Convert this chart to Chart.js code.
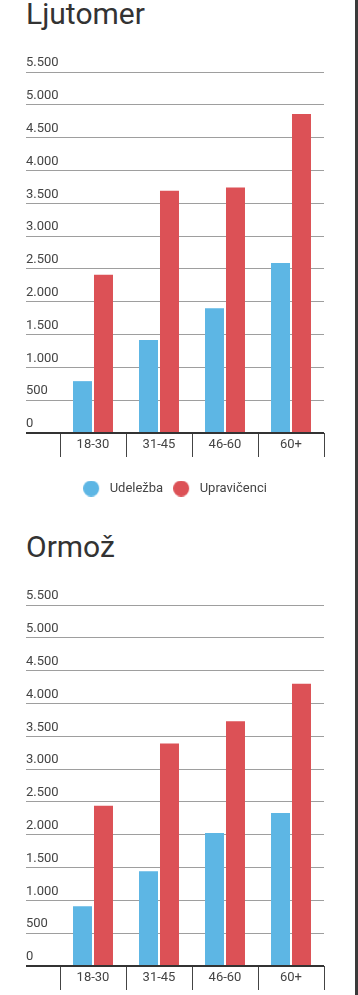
<!DOCTYPE html>
<html>
<head>
<meta charset="utf-8">
<script src="https://cdn.jsdelivr.net/npm/chart.js@4"></script>
<style>
  html,body{margin:0;padding:0;background:#fff;}
  body{width:358px;height:995px;overflow:hidden;position:relative;font-family:Roboto,sans-serif;}
  .sec{position:absolute;left:0;width:355px;height:533px;}
  .sec h2{position:absolute;left:26px;top:-1px;margin:0;font-weight:400;font-size:30px;line-height:30px;color:#333;}
  .sec canvas{position:absolute;left:0;top:40px;}
  #edge{position:absolute;left:355px;top:0;width:3px;height:995px;background:#3a3a3a;}
</style>
</head>
<body>
<div class="sec" style="top:0"><h2>Ljutomer</h2><canvas id="c1" width="352" height="480"></canvas></div>
<div class="sec" style="top:533px"><h2>Ormož</h2><canvas id="c2" width="352" height="480"></canvas></div>
<div id="edge"></div>
<script>
const ageGroups = ['18-30', '31-45', '46-60', '60+'];
const yTickLabels = ['0', '500', '1.000', '1.500', '2.000', '2.500', '3.000', '3.500', '4.000', '4.500', '5.000', '5.500'];
const seriesNames = ['Udeležba', 'Upravičenci'];

const ljutomerUdelezba = [790, 1415, 1900, 2590];
const ljutomerUpravicenci = [2410, 3690, 3740, 4860];
const ormozUdelezba = [910, 1445, 2025, 2330];
const ormozUpravicenci = [2440, 3390, 3730, 4300];

const BLUE = '#5db6e4', RED = '#dc5156';
const font13 = { family: 'Roboto', size: 13 };

// legend marker: 16px dot sitting at the left of a 20px box
function dot(color){
  const c = document.createElement('canvas');
  c.width = 20; c.height = 16;
  const g = c.getContext('2d');
  g.fillStyle = color;
  g.beginPath(); g.arc(8, 8, 8, 0, Math.PI * 2); g.fill();
  return c;
}

function makeChart(id, udel, uprav){
  const ctx = document.getElementById(id);
  return new Chart(ctx, {
    type: 'bar',
    data: {
      labels: ageGroups,
      datasets: [
        { label: seriesNames[0], data: udel, backgroundColor: BLUE, pointStyle: dot(BLUE) },
        { label: seriesNames[1], data: uprav, backgroundColor: RED, pointStyle: dot(RED) }
      ]
    },
    options: {
      responsive: false,
      animation: false,
      devicePixelRatio: 1,
      categoryPercentage: 0.636,
      barPercentage: 0.905,
      layout: { padding: { left: 26, right: 28, top: 32, bottom: 15 } },
      plugins: {
        tooltip: { enabled: false },
        legend: {
          position: 'bottom',
          labels: {
            usePointStyle: true, pointStyleWidth: 20,
            boxHeight: 13, padding: 10,
            font: font13, color: '#444'
          }
        }
      },
      scales: {
        x: {
          grid: { drawOnChartArea: false, drawTicks: true, tickLength: 24, color: '#444', lineWidth: 1, offset: true },
          border: { display: false },
          ticks: { padding: -20, font: font13, color: '#444' },
          afterFit: s => { s.height = 39; }
        },
        y: {
          min: 0, max: 5500,
          ticks: {
            stepSize: 500, crossAlign: 'far', labelOffset: -9, padding: 0,
            font: font13, color: '#444',
            callback: (v, i) => yTickLabels[i]
          },
          grid: {
            drawTicks: true, tickLength: 34,
            color: c => (c.tick && c.tick.value === 0) ? '#333' : '#9e9e9e',
            lineWidth: c => (c.tick && c.tick.value === 0) ? 2 : 1
          },
          border: { display: false },
          afterFit: s => { s.width = 34; }
        }
      }
    }
  });
}

makeChart('c1', ljutomerUdelezba, ljutomerUpravicenci);
makeChart('c2', ormozUdelezba, ormozUpravicenci);
</script>
</body>
</html>
